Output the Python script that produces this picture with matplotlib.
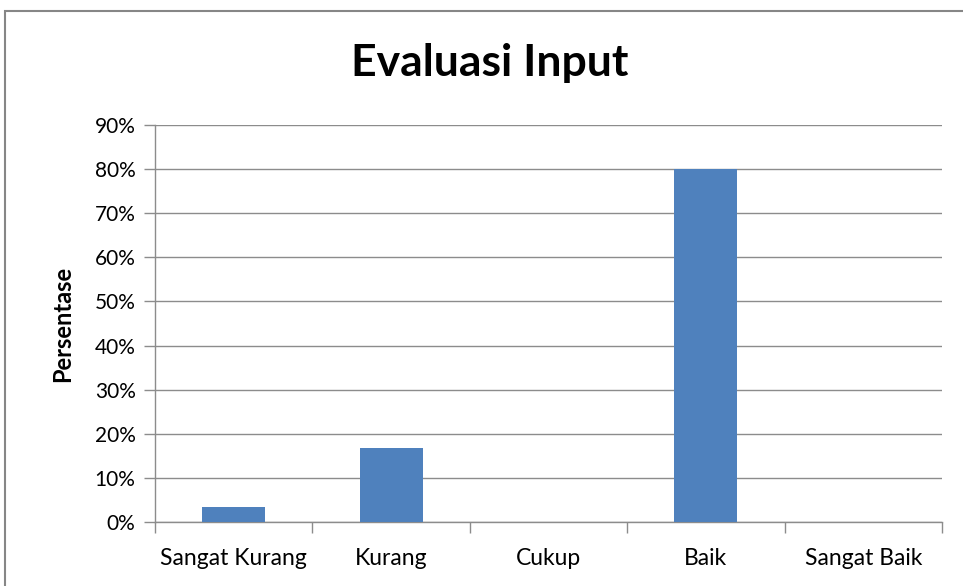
import matplotlib.pyplot as plt
from matplotlib.patches import Rectangle
from matplotlib.ticker import FuncFormatter, MultipleLocator

categories = ["Sangat Kurang", "Kurang", "Cukup", "Baik", "Sangat Baik"]
persentase = [3.33, 16.67, 0, 80.0, 0]

plt.rcParams["font.family"] = ["Lato", "DejaVu Sans"]

W, H = 963, 586
fig = plt.figure(figsize=(W / 100, H / 100), dpi=100)

# chart area frame (Excel style, runs off the right/bottom edge)
fig.patches.append(Rectangle((5 / W, -0.1), 1.2, 1 - 11 / H + 0.1,
                             transform=fig.transFigure, fill=False,
                             edgecolor="#868686", linewidth=1.5))

ax = fig.add_axes([155 / W, 1 - 522 / H, (942 - 155) / W, (522 - 125) / H])

x = list(range(len(categories)))
ax.bar(x, persentase, width=0.4, color="#4f81bd", zorder=3)

ax.set_xlim(-0.5, len(categories) - 0.5)
ax.set_ylim(0, 90)
ax.yaxis.set_major_locator(MultipleLocator(10))
ax.yaxis.set_major_formatter(FuncFormatter(lambda v, p: f"{v:.0f}%"))
ax.grid(axis="y", color="#8c8c8c", linewidth=1, zorder=0)

ax.set_xticks(x)
ax.set_xticklabels(categories)
ax.set_xticks([i - 0.5 for i in range(len(categories) + 1)], minor=True)
ax.tick_params(axis="x", which="major", length=0, pad=19, labelsize=16.5)
ax.tick_params(axis="x", which="minor", length=8, color="#8c8c8c", width=1)
ax.tick_params(axis="y", length=8, color="#8c8c8c", width=1, labelsize=15, pad=6)

for side in ["top", "right"]:
    ax.spines[side].set_visible(False)
for side in ["left", "bottom"]:
    ax.spines[side].set_color("#8c8c8c")
    ax.spines[side].set_linewidth(1)

ax.set_ylabel("Persentase", fontsize=17, fontweight="bold", labelpad=15)
fig.text(490 / W, 1 - 63 / H, "Evaluasi Input",
         ha="center", va="center", fontsize=32, fontweight="bold")

fig.savefig("out.png", dpi=100)
